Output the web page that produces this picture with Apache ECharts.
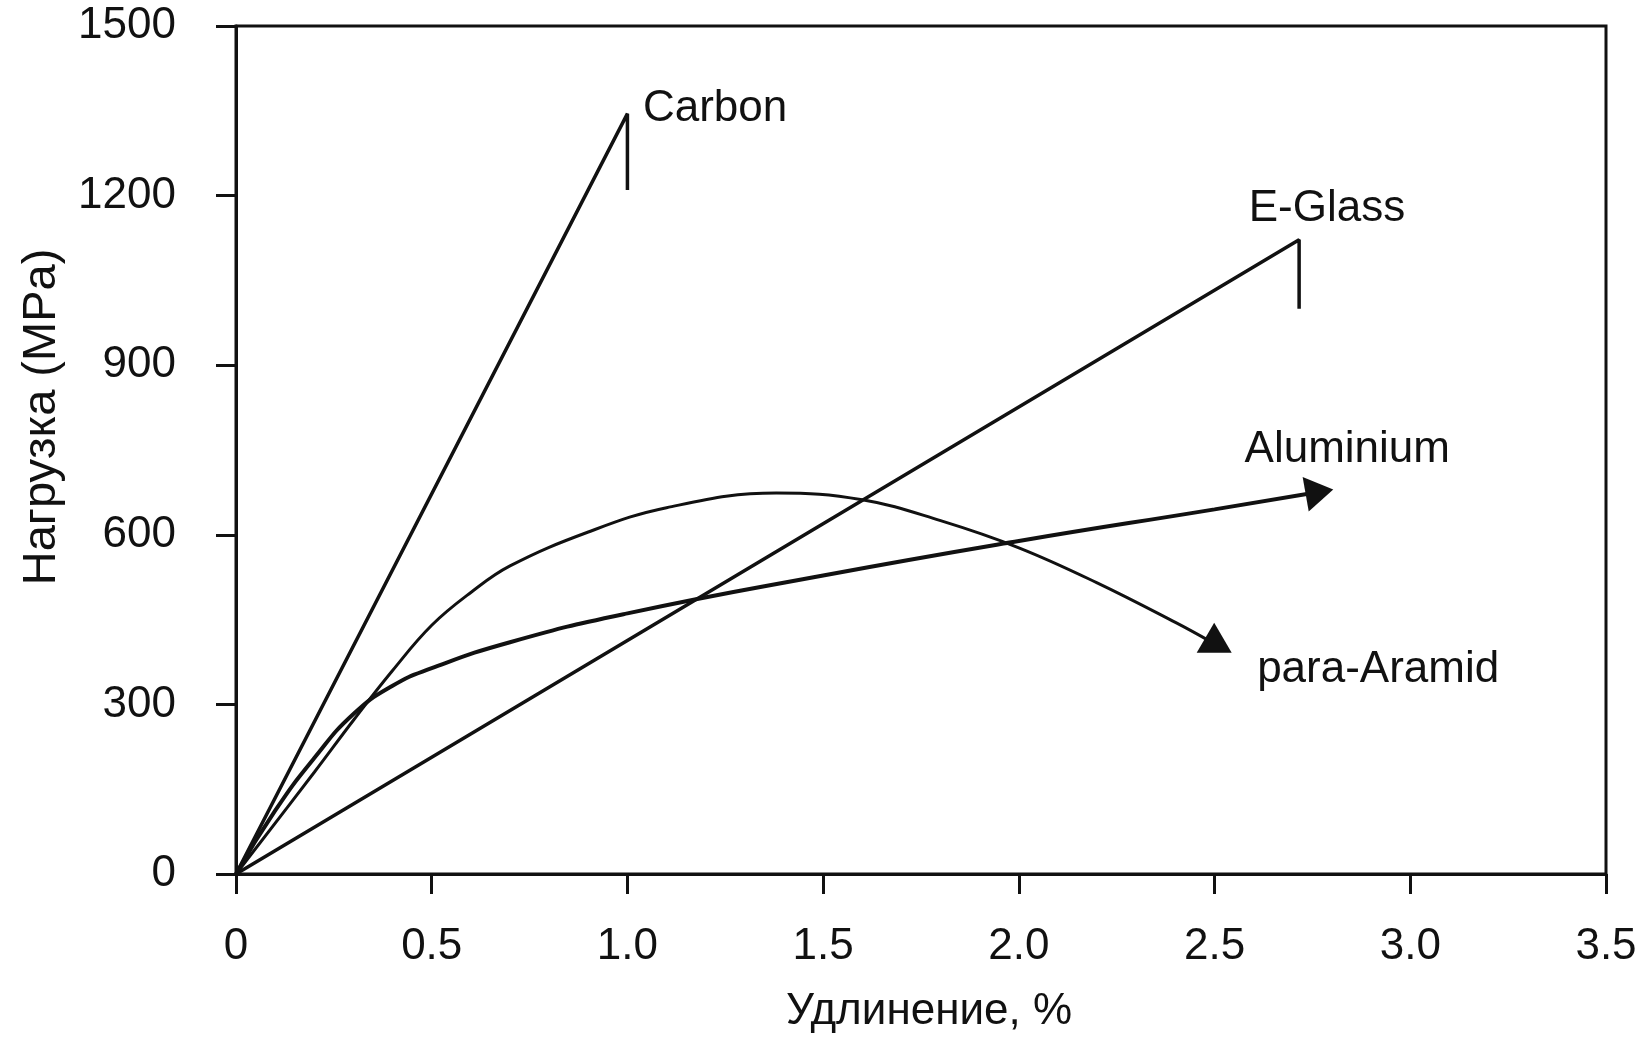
<!DOCTYPE html>
<html>
<head>
<meta charset="utf-8">
<title>Нагрузка – удлинение</title>
<script src="https://cdn.jsdelivr.net/npm/echarts@6/dist/echarts.min.js"></script>
<style>
  html, body { margin: 0; padding: 0; background: #fff; }
  #chart { width: 1646px; height: 1039px; }
</style>
</head>
<body>
<div id="chart"></div>
<script>
// tick labels
const xTickLabels = ["0", "0.5", "1.0", "1.5", "2.0", "2.5", "3.0", "3.5"];
const yTickLabels = ["0", "300", "600", "900", "1200", "1500"];

// curves: [удлинение %, нагрузка MPa]
const carbon = [[0, 0], [1.0, 1345], [1.0, 1210]];
const eGlass = [[0, 0], [2.716, 1122], [2.716, 1000]];
const aluminium = [
  [0, 0], [0.1, 112], [0.2, 205], [0.3, 283], [0.4, 333], [0.5, 364],
  [0.7, 410], [1.0, 461], [1.5, 528], [2.0, 589], [2.5, 645], [2.77, 676]
];
const aramid = [
  [0, 0], [0.2, 180], [0.3, 272], [0.4, 360], [0.5, 440], [0.6, 498],
  [0.7, 545], [0.9, 605], [1.1, 648], [1.38, 674], [1.6, 662], [1.8, 625],
  [2.0, 577], [2.2, 515], [2.4, 445], [2.49, 411]
];

// arrow heads (centre of the head)
const aluminiumArrow = [2.768, 676];
const aramidArrow = [2.499, 418];

// curve names
const curveNames = ["Carbon", "E-Glass", "Aluminium", "para-Aramid"];
const curveNamePos = [[1.224, 1354], [2.787, 1177], [2.839, 750], [2.918, 361]];

const chart = echarts.init(document.getElementById("chart"));
const font = "Liberation Sans, Arial, Helvetica, sans-serif";
const ink = "#111";

const lineSeries = (data, width) => ({
  type: "line",
  data: data,
  symbol: "none",
  showSymbol: false,
  smooth: false,
  lineStyle: { color: ink, width: width },
  z: 3,
});

const option = {
  animation: false,
  backgroundColor: "#fff",
  grid: {
    left: 236,
    right: 40,
    top: 26,
    bottom: 164,
    show: true,
    borderColor: ink,
    borderWidth: 3,
  },
  xAxis: {
    type: "value",
    min: 0,
    max: 3.5,
    interval: 0.5,
    name: "Удлинение, %",
    nameLocation: "middle",
    nameGap: 116,
    nameTextStyle: { fontFamily: font, fontSize: 44, color: ink, padding: [0, 0, 0, 16] },
    axisLine: { lineStyle: { color: ink, width: 3 } },
    axisTick: { length: 20, lineStyle: { color: ink, width: 3 } },
    axisLabel: {
      margin: 51,
      fontFamily: font,
      fontSize: 44,
      color: ink,
      formatter: (v) => xTickLabels[Math.round(v / 0.5)],
    },
    splitLine: { show: false },
  },
  yAxis: {
    type: "value",
    min: 0,
    max: 1500,
    interval: 300,
    name: "Нагрузка (MPa)",
    nameLocation: "middle",
    nameGap: 170,
    nameTextStyle: { fontFamily: font, fontSize: 47, color: ink, padding: [0, 0, 0, 66] },
    axisLine: { lineStyle: { color: ink, width: 3 } },
    axisTick: { length: 20, lineStyle: { color: ink, width: 3 } },
    axisLabel: {
      margin: 60,
      fontFamily: font,
      fontSize: 44,
      color: ink,
      formatter: (v) => yTickLabels[Math.round(v / 300)],
    },
    splitLine: { show: false },
  },
  series: [
    lineSeries(carbon, 3.5),
    lineSeries(eGlass, 3.5),
    Object.assign(lineSeries(aluminium, 4), { smooth: 0.5 }),
    Object.assign(lineSeries(aramid, 3), { smooth: 0.4 }),
    {
      type: "scatter",
      data: [
        { value: aluminiumArrow, symbolRotate: -80, symbolSize: [35, 28] },
        { value: aramidArrow, symbolRotate: 0, symbolSize: [35, 30] },
      ],
      symbol: "triangle",
      itemStyle: { color: ink, opacity: 1 },
      z: 4,
    },
    {
      type: "custom",
      data: curveNamePos.map((p, i) => [p[0], p[1], i]),
      renderItem: (params, api) => {
        const pt = api.coord([api.value(0), api.value(1)]);
        return {
          type: "text",
          x: pt[0],
          y: pt[1],
          style: {
            text: curveNames[api.value(2)],
            font: "44px " + font,
            fill: ink,
            align: "center",
            verticalAlign: "middle",
          },
        };
      },
      z: 5,
    },
  ],
};

chart.setOption(option);
</script>
</body>
</html>
